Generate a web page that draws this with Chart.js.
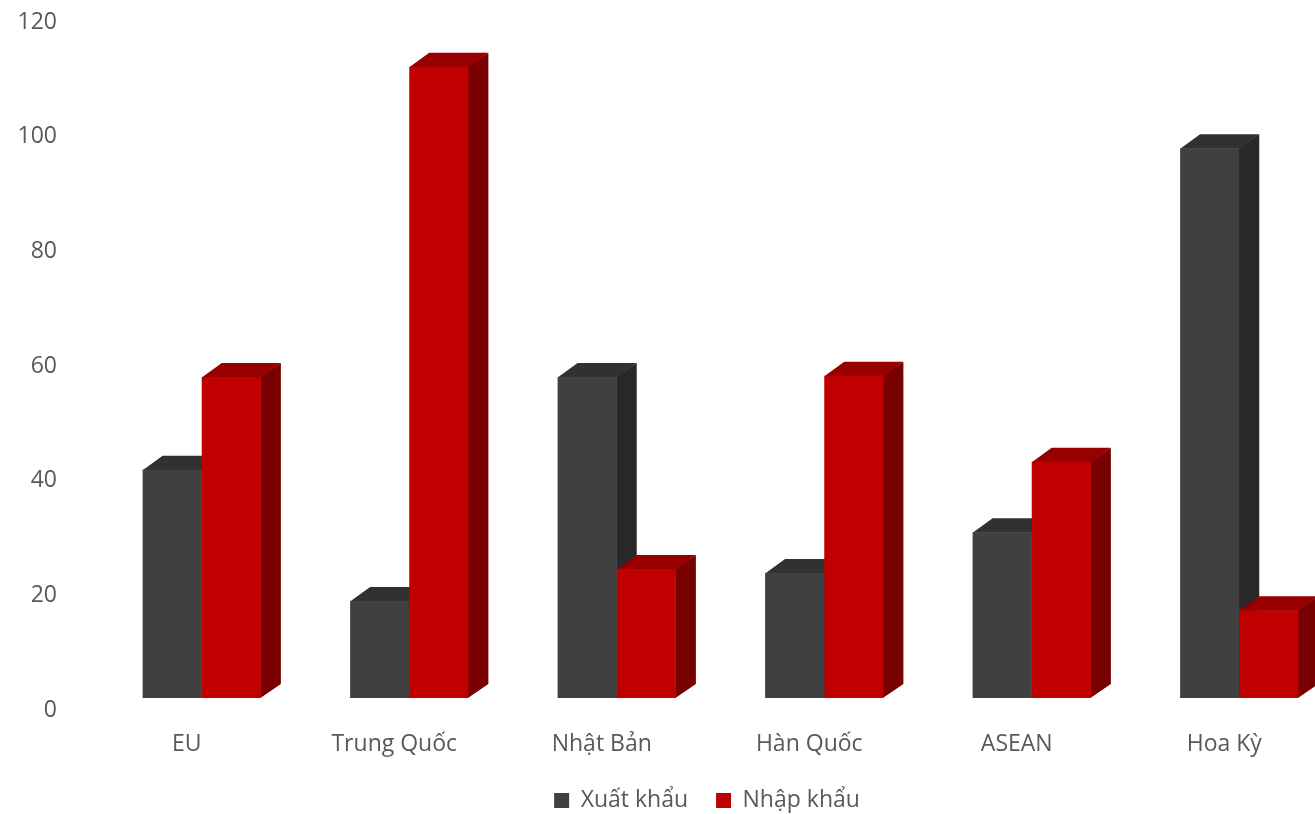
<!DOCTYPE html>
<html>
<head>
<meta charset="utf-8">
<script src="https://cdn.jsdelivr.net/npm/chart.js@4/dist/chart.umd.min.js"></script>
<style>
  html, body { margin: 0; padding: 0; background: #ffffff; overflow: hidden; }
  #wrap { position: absolute; left: 0; top: 0; width: 1360px; height: 822px; }
</style>
</head>
<body>
<div id="wrap"><canvas id="c"></canvas></div>
<script>
// ---- data ----
const categories = ['EU', 'Trung Quốc', 'Nhật Bản', 'Hàn Quốc', 'ASEAN', 'Hoa Kỳ'];
const seriesNames = ['Xuất khẩu', 'Nhập khẩu'];
const xuatKhau = [41.9, 19.0, 58.1, 23.9, 31.0, 98.0];
const nhapKhau = [58.1, 112.2, 24.6, 58.3, 43.3, 17.4];
const yTicks = [0, 20, 40, 60, 80, 100, 120];

// ---- style ----
const FRONT = ['#404040', '#c00000'];
const TOP = ['#313131', '#980000'];
const SIDE = ['#282828', '#780000'];
const DEPTH_X = 20, DEPTH_Y = 14;
const FLOOR = 2.1;          // 3D floor offset (data units) used as bar base
const LEGEND_DX = 27;
const TEXT = '#595959';
const FONT = 'Open Sans';
const FS = 23;

const bars3d = {
  id: 'bars3d',
  beforeDatasetsDraw(chart) {
    const ctx = chart.ctx;
    const n = categories.length;
    for (let i = 0; i < n; i++) {
      chart.data.datasets.forEach((ds, di) => {
        const meta = chart.getDatasetMeta(di);
        const el = meta.data[i];
        if (!el) return;
        const p = el.getProps(['x', 'y', 'base', 'width'], true);
        const l = p.x - p.width / 2, r = p.x + p.width / 2;
        const t = Math.min(p.y, p.base), b = Math.max(p.y, p.base);
        ctx.save();
        // side face
        ctx.fillStyle = SIDE[di];
        ctx.beginPath();
        ctx.moveTo(r - 0.5, t);
        ctx.lineTo(r + DEPTH_X, t - DEPTH_Y);
        ctx.lineTo(r + DEPTH_X, b - DEPTH_Y);
        ctx.lineTo(r - 0.5, b);
        ctx.closePath();
        ctx.fill();
        // top face
        ctx.fillStyle = TOP[di];
        ctx.beginPath();
        ctx.moveTo(l, t + 0.5);
        ctx.lineTo(l + DEPTH_X, t - DEPTH_Y);
        ctx.lineTo(r + DEPTH_X, t - DEPTH_Y);
        ctx.lineTo(r, t + 0.5);
        ctx.closePath();
        ctx.fill();
        ctx.restore();
      });
    }
  }
};

const legendShift = {
  id: 'legendShift',
  afterLayout(chart) {
    const lg = chart.legend;
    if (!lg) return;
    lg.left += LEGEND_DX; lg.right += LEGEND_DX;
  }
};

new Chart(document.getElementById('c'), {
  type: 'bar',
  data: {
    labels: categories,
    datasets: [
      { label: seriesNames[0], data: xuatKhau, backgroundColor: FRONT[0], base: FLOOR, borderWidth: 0 },
      { label: seriesNames[1], data: nhapKhau, backgroundColor: FRONT[1], base: FLOOR, borderWidth: 0 }
    ]
  },
  options: {
    responsive: true,
    maintainAspectRatio: false,
    animation: false,
    devicePixelRatio: 1,
    layout: { padding: { left: 17, right: 17, top: 22, bottom: 0 } },
    datasets: { bar: { categoryPercentage: 0.57, barPercentage: 1.0 } },
    scales: {
      x: {
        grid: { display: false, drawTicks: false, tickLength: 0 },
        border: { display: false },
        ticks: { color: TEXT, font: { family: FONT, size: FS }, padding: 21, labelOffset: -15, maxRotation: 0, autoSkip: false },
        afterFit(scale) { scale.height = 51; }
      },
      y: {
        min: 0, max: 120,
        afterBuildTicks(scale) { scale.ticks = yTicks.map(v => ({ value: v })); },
        grid: { display: false, drawTicks: false, tickLength: 0 },
        border: { display: false },
        ticks: { color: TEXT, font: { family: FONT, size: FS }, padding: 41 },
        afterFit(scale) { scale.width = 81; scale.paddingTop = 0; scale.paddingBottom = 0; }
      }
    },
    plugins: {
      legend: {
        position: 'bottom',
        labels: { color: TEXT, font: { family: FONT, size: FS }, boxWidth: 15, boxHeight: 15, padding: 28 }
      },
      tooltip: { enabled: false }
    }
  },
  plugins: [bars3d, legendShift]
});
</script>
</body>
</html>
